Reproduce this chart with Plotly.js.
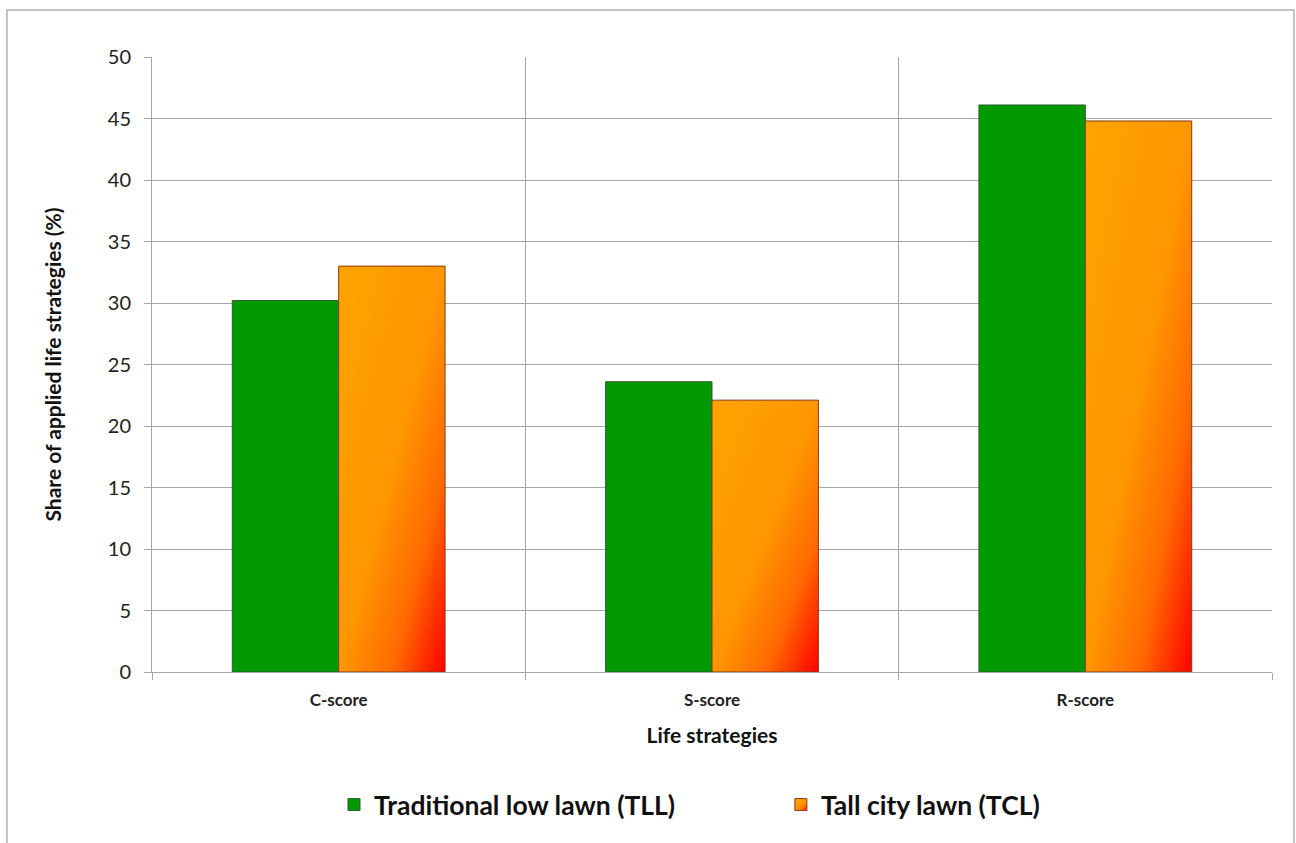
<!DOCTYPE html>
<html>
<head>
<meta charset="utf-8">
<script src="https://cdn.plot.ly/plotly-3.0.1.min.js"></script>
<style>
html,body{margin:0;padding:0;background:#fff;}
#chart{width:1296px;height:843px;}
</style>
</head>
<body>
<div id="chart"></div>
<script>
const categories = ["C-score", "S-score", "R-score"];
const seriesNames = ["Traditional low lawn (TLL)", "Tall city lawn (TCL)"];
const tllValues = [30.2, 23.6, 46.1];
const tclValues = [33.0, 22.1, 44.8];
const yTicks = [0, 5, 10, 15, 20, 25, 30, 35, 40, 45, 50];

const FONT = "Lato, 'Open Sans', sans-serif";

const traces = [
  {
    type: "bar", name: seriesNames[0], x: categories, y: tllValues, legend: "legend",
    marker: {color: "#009900", line: {color: "#2e5e2e", width: 1}}
  },
  {
    type: "bar", name: seriesNames[1], x: categories, y: tclValues, legend: "legend2",
    marker: {color: "#FF8C00", line: {color: "#8a3a1a", width: 1}}
  }
];

const legendFont = {family: FONT, size: 26.5, color: "#111", weight: "bold"};

const layout = {
  width: 1296, height: 843,
  margin: {l: 152, r: 24, t: 57, b: 171, autoexpand: false},
  paper_bgcolor: "#fff", plot_bgcolor: "#fff",
  barmode: "group", bargap: 0.43, bargroupgap: 0,
  font: {family: FONT, color: "#222"},
  showlegend: true,
  legend: {
    orientation: "h", x: 0.1625, xanchor: "left", y: -0.216, yanchor: "middle",
    font: legendFont, itemwidth: 30, bgcolor: "rgba(0,0,0,0)"
  },
  legend2: {
    orientation: "h", x: 0.5615, xanchor: "left", y: -0.216, yanchor: "middle",
    font: legendFont, itemwidth: 30, bgcolor: "rgba(0,0,0,0)"
  },
  xaxis: {
    type: "category", tickson: "boundaries", showgrid: true, gridcolor: "#a6a6a6", gridwidth: 1,
    ticks: "outside", ticklen: 7, tickcolor: "#a6a6a6", automargin: false,
    showline: true, linecolor: "#a6a6a6", linewidth: 1, ticklabelstandoff: 13,
    tickfont: {family: FONT, size: 17, color: "#222", weight: "bold"},
    title: {text: "Life strategies", font: {family: FONT, size: 21, color: "#111", weight: "bold"}, standoff: 18}
  },
  yaxis: {
    range: [0, 50], tickvals: yTicks, ticktext: yTicks.map(String), automargin: false,
    showgrid: true, gridcolor: "#a6a6a6", gridwidth: 1,
    ticks: "outside", ticklen: 7, tickcolor: "#a6a6a6", ticklabelstandoff: 9,
    showline: true, linecolor: "#a6a6a6", linewidth: 1, zeroline: false,
    tickfont: {family: FONT, size: 20, color: "#222"},
    title: {text: "Share of applied life strategies (%)", font: {family: FONT, size: 21, color: "#111", weight: "bold"}, standoff: 40}
  },
  shapes: [{
    type: "rect", xref: "paper", yref: "paper",
    x0: -0.1295, x1: 1.0196, y0: -0.3, y1: 1.0764,
    line: {color: "#b0b0b0", width: 1.5}, fillcolor: "rgba(0,0,0,0)", layer: "below"
  }]
};

Plotly.newPlot("chart", traces, layout, {displayModeBar: false, staticPlot: true}).then(function (gd) {
  const svg = gd.querySelector("svg.main-svg");
  const ns = "http://www.w3.org/2000/svg";
  let defs = svg.querySelector("defs");
  if (!defs) { defs = document.createElementNS(ns, "defs"); svg.insertBefore(defs, svg.firstChild); }
  const grad = document.createElementNS(ns, "linearGradient");
  grad.setAttribute("id", "tclGrad");
  grad.setAttribute("x1", "0"); grad.setAttribute("y1", "0");
  grad.setAttribute("x2", "1"); grad.setAttribute("y2", "1");
  [["0", "#FFA400"], ["0.5", "#FF9600"], ["0.75", "#FF6A00"], ["1", "#FF0000"]].forEach(function (s) {
    const st = document.createElementNS(ns, "stop");
    st.setAttribute("offset", s[0]); st.setAttribute("stop-color", s[1]);
    grad.appendChild(st);
  });
  defs.appendChild(grad);
  const barTraces = gd.querySelectorAll(".barlayer .trace");
  if (barTraces[1]) barTraces[1].querySelectorAll("path").forEach(function (p) { p.style.fill = "url(#tclGrad)"; });
  gd.querySelectorAll("g.legend2 .legendpoints path").forEach(function (p) { p.style.fill = "url(#tclGrad)"; });
});
</script>
</body>
</html>
